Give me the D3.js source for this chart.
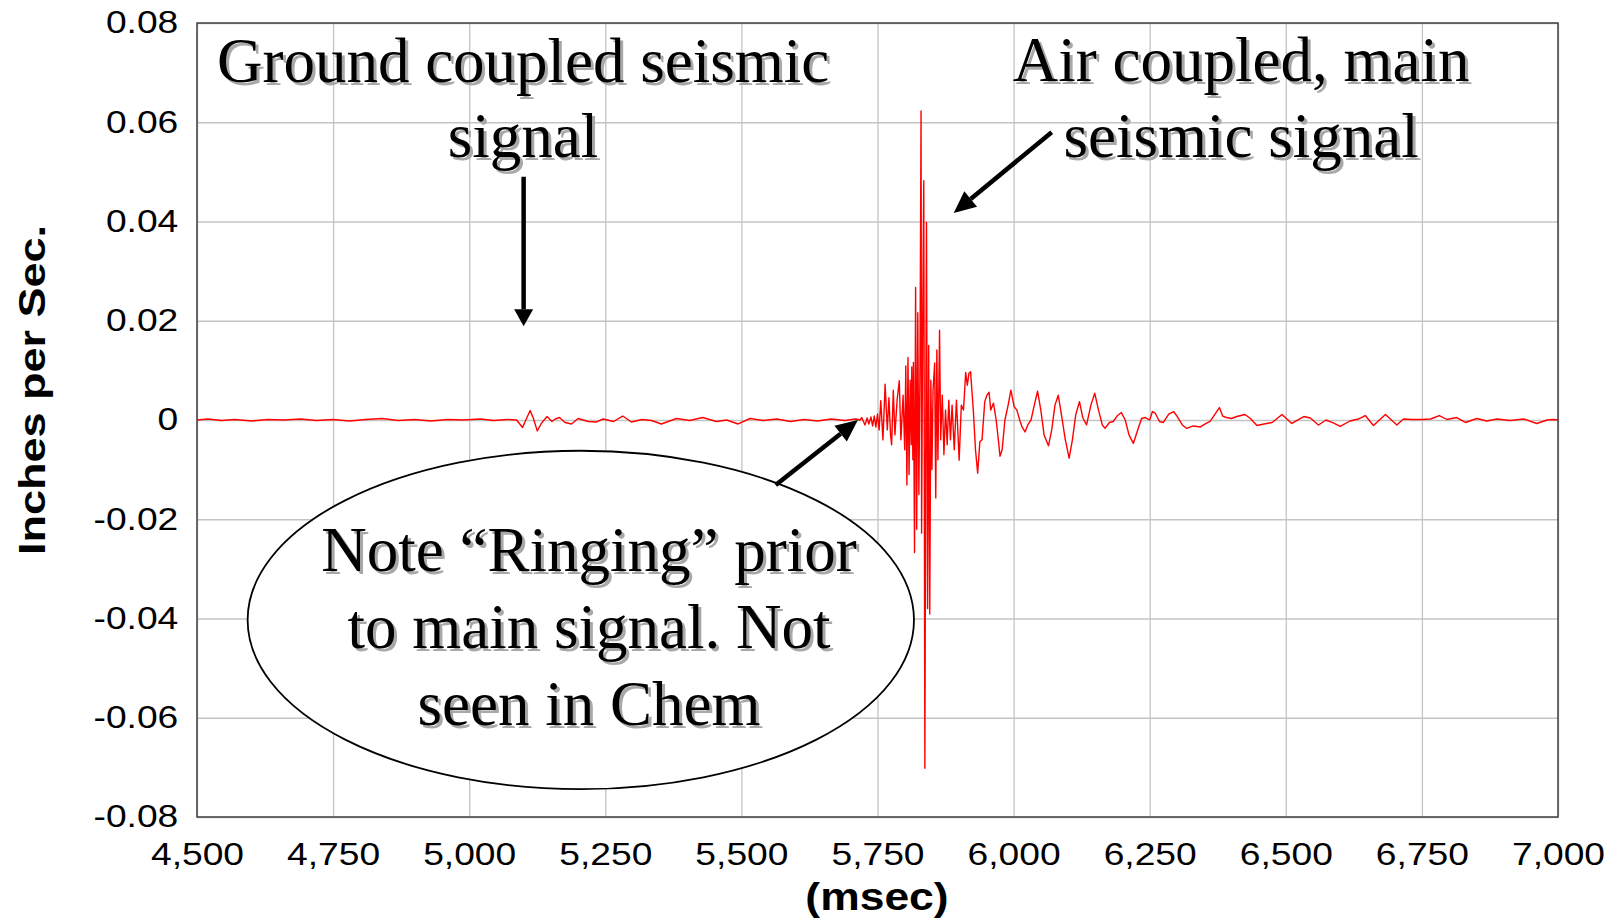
<!DOCTYPE html>
<html>
<head>
<meta charset="utf-8">
<script src="https://cdn.jsdelivr.net/npm/d3@7"></script>
<style>
  body { margin: 0; background: #fff; }
  svg { display: block; }
</style>
</head>
<body>
<svg id="chart" width="1617" height="919"></svg>
<script>
// axis ticks
var xTicks = [4500, 4750, 5000, 5250, 5500, 5750, 6000, 6250, 6500, 6750, 7000];
var yTicks = [-0.08, -0.06, -0.04, -0.02, 0, 0.02, 0.04, 0.06, 0.08];
var yTickLabels = ['-0.08', '-0.06', '-0.04', '-0.02', '0', '0.02', '0.04', '0.06', '0.08'];

// velocity trace (msec, inches per sec)
var timeMs = [
  4500, 4520, 4545, 4570, 4600, 4630, 4660, 4690, 4720, 4750, 4780, 4810, 4840, 4870, 4900, 4930, 4960, 4990,
  5020, 5045, 5070, 5087, 5098, 5104, 5112, 5118, 5125, 5133, 5143, 5152, 5158, 5166, 5176, 5188, 5200,
  5219, 5234, 5246, 5265, 5282, 5298, 5317, 5335, 5353, 5381, 5405, 5429, 5454, 5473, 5494, 5516, 5540,
  5565, 5590, 5615, 5640, 5665, 5690, 5710, 5718, 5721, 5727, 5731, 5734, 5738, 5741, 5744, 5747, 5750,
  5753, 5756, 5760, 5764, 5768, 5771, 5774, 5776, 5779, 5782, 5786, 5790, 5793, 5797, 5800, 5802, 5804,
  5806, 5808, 5810, 5812, 5813, 5815, 5816, 5818, 5820, 5822, 5824, 5826, 5828, 5830, 5831, 5833, 5835,
  5837, 5839, 5840, 5842, 5844, 5846, 5848, 5850, 5852, 5855, 5857, 5859, 5861, 5864, 5866, 5869, 5872,
  5875, 5878, 5881, 5884, 5887, 5891, 5895, 5900, 5904, 5908, 5912, 5915, 5918, 5921, 5924, 5926, 5930,
  5934, 5938, 5942, 5947, 5951, 5955, 5958, 5963, 5968, 5972, 5975, 5979, 5984, 5990, 5995, 6001, 6006,
  6012, 6016, 6021, 6026, 6032, 6038, 6044, 6050, 6056, 6064, 6070, 6076, 6082, 6088, 6095, 6102, 6108,
  6114, 6121, 6127, 6134, 6142, 6149, 6156, 6163, 6168, 6176, 6183, 6190, 6198, 6205, 6212, 6220, 6228,
  6235, 6242, 6250, 6255, 6260, 6268, 6275, 6285, 6294, 6300, 6310, 6318, 6330, 6343, 6352, 6361, 6370,
  6378, 6384, 6391, 6400, 6410, 6425, 6435, 6447, 6460, 6475, 6493, 6511, 6533, 6545, 6560, 6574, 6587,
  6600, 6618, 6633, 6646, 6661, 6672, 6683, 6694, 6704, 6716, 6732, 6750, 6766, 6782, 6796, 6814, 6830,
  6851, 6869, 6888, 6912, 6937, 6961, 6980, 6992, 7000
];
var inchesPerSec = [
  0.0000, 0.0002, -0.0001, 0.0001, -0.0002, 0.0001, 0.0000, 0.0002, -0.0001, 0.0001, -0.0002, 0.0001, 0.0003, -0.0001, 0.0001, -0.0002, 0.0001, 0.0000,
  0.0002, -0.0001, 0.0001, 0.0000, -0.0015, 0.0000, 0.0019, 0.0003, -0.0022, -0.0006, 0.0007, -0.0003, 0.0002, 0.0005, -0.0005, -0.0008, 0.0003,
  -0.0003, -0.0004, 0.0002, -0.0003, 0.0008, -0.0004, 0.0001, -0.0001, -0.0008, 0.0003, -0.0001, 0.0005, -0.0003, 0.0000, -0.0008, 0.0003, -0.0001,
  0.0002, -0.0003, 0.0001, -0.0002, 0.0002, -0.0001, 0.0002, 0.0000, 0.0005, -0.0010, 0.0004, -0.0008, 0.0006, -0.0012, 0.0008, -0.0014, 0.0012,
  -0.0020, 0.0039, -0.0040, 0.0072, -0.0020, 0.0045, -0.0030, -0.0050, 0.0060, -0.0030, 0.0040, 0.0079, -0.0040, 0.0050, -0.0060, 0.0109, -0.0131,
  0.0126, -0.0110, 0.0080, -0.0050, 0.0107, -0.0080, 0.0116, -0.0267, 0.0267, -0.0220, 0.0216, -0.0150, 0.0100, 0.0623, -0.0228, 0.0200, 0.0482,
  -0.0702, 0.0100, 0.0398, -0.0380, 0.0150, -0.0391, 0.0080, -0.0100, 0.0060, 0.0115, -0.0157, 0.0141, -0.0080, 0.0181, -0.0040, 0.0050, -0.0070,
  0.0020, -0.0050, 0.0040, -0.0040, 0.0030, -0.0060, 0.0040, -0.0081, 0.0030, 0.0020, 0.0096, 0.0070, 0.0094, 0.0097, 0.0050, 0.0020, -0.0060,
  -0.0107, -0.0044, -0.0040, 0.0037, 0.0050, 0.0056, 0.0020, 0.0034, 0.0000, -0.0040, -0.0073, -0.0060, 0.0000, 0.0030, 0.0060, 0.0027, 0.0020,
  -0.0003, -0.0015, -0.0024, -0.0010, 0.0000, 0.0030, 0.0058, 0.0020, -0.0030, -0.0052, -0.0020, 0.0030, 0.0050, 0.0010, -0.0040, -0.0077, -0.0040,
  0.0010, 0.0037, 0.0005, -0.0010, 0.0030, 0.0054, 0.0020, -0.0010, -0.0017, -0.0005, -0.0003, 0.0008, 0.0015, 0.0000, -0.0030, -0.0047, -0.0020,
  0.0003, 0.0005, 0.0000, 0.0017, 0.0014, -0.0003, -0.0005, 0.0012, 0.0017, 0.0008, -0.0010, -0.0017, -0.0012, -0.0014, -0.0008, -0.0003, 0.0012,
  0.0025, 0.0008, 0.0005, 0.0003, 0.0007, 0.0011, 0.0003, -0.0011, -0.0008, -0.0005, 0.0011, -0.0007, 0.0007, 0.0004, -0.0010, 0.0000, -0.0006,
  -0.0013, -0.0002, 0.0002, 0.0009, -0.0011, 0.0000, 0.0011, 0.0000, -0.0010, 0.0002, 0.0001, 0.0001, 0.0002, 0.0009, 0.0001, 0.0005, -0.0005,
  0.0003, -0.0002, 0.0002, -0.0001, 0.0002, -0.0007, 0.0000, 0.0001, 0.0000
];

var margin = {left: 197, top: 23, right: 59, bottom: 102};
var width = 1617 - margin.left - margin.right;
var height = 919 - margin.top - margin.bottom;

var svg = d3.select('#chart');
svg.append('rect').attr('width', 1617).attr('height', 919).attr('fill', '#fff');

var g = svg.append('g')
           .attr('transform', 'translate(' + margin.left + ',' + margin.top + ')');

var x = d3.scaleLinear().domain([4500, 7000]).range([0, width]);
var y = d3.scaleLinear().domain([-0.08, 0.08]).range([height, 0]);

// axes double as gridlines
var xAxis = g.append('g')
             .attr('transform', 'translate(0,' + height + ')')
             .call(d3.axisBottom(x)
                     .tickValues(xTicks)
                     .tickFormat(d3.format(','))
                     .tickSize(-height)
                     .tickPadding(26));

var yAxis = g.append('g')
             .call(d3.axisLeft(y)
                     .tickValues(yTicks)
                     .tickFormat(function(d){ return yTickLabels[yTicks.indexOf(d)]; })
                     .tickSize(-width)
                     .tickPadding(15.6));

[xAxis, yAxis].forEach(function(ax){
  ax.select('.domain').remove();
  ax.selectAll('.tick line')
    .attr('stroke', '#c4c4c4')
    .attr('stroke-width', 1.3);
  ax.selectAll('.tick text')
    .attr('fill', '#000')
    .attr('transform', 'scale(1.2,1)')
    .style('font-family', '"Liberation Sans", Arial, sans-serif')
    .style('font-size', '31px');
});

var pts = timeMs.map(function(t, i){ return [t, inchesPerSec[i]]; });

g.append('path')
 .datum(pts)
 .attr('fill', 'none')
 .attr('stroke', '#ff0000')
 .attr('stroke-width', 1.4)
 .attr('stroke-linejoin', 'round')
 .attr('d', d3.line()
              .x(function(d){ return x(d[0]); })
              .y(function(d){ return y(d[1]); }));

g.append('rect')
 .attr('width', width)
 .attr('height', height)
 .attr('fill', 'none')
 .attr('stroke', '#404040')
 .attr('stroke-width', 1.5);

// axis titles
svg.append('text')
   .attr('transform', 'translate(45,390) rotate(-90) scale(1.25,1)')
   .attr('text-anchor', 'middle')
   .style('font-family', '"Liberation Sans", Arial, sans-serif')
   .style('font-weight', 'bold')
   .style('font-size', '36px')
   .text('Inches per Sec.');

svg.append('text')
   .attr('transform', 'translate(877,910) scale(1.17,1)')
   .attr('text-anchor', 'middle')
   .style('font-family', '"Liberation Sans", Arial, sans-serif')
   .style('font-weight', 'bold')
   .style('font-size', '38px')
   .text('(msec)');

// annotations, placed in data units
function arrow(t1, v1, t2, v2, headLen, headW) {
  var x1 = x(t1), y1 = y(v1), x2 = x(t2), y2 = y(v2);
  var a = Math.atan2(y2 - y1, x2 - x1);
  var bx = x2 - headLen * Math.cos(a), by = y2 - headLen * Math.sin(a);
  g.append('line')
   .attr('x1', x1).attr('y1', y1).attr('x2', bx).attr('y2', by)
   .attr('stroke', '#000').attr('stroke-width', 4.5);
  var px = -Math.sin(a) * headW / 2, py = Math.cos(a) * headW / 2;
  g.append('path')
   .attr('d', 'M' + x2 + ',' + y2 + 'L' + (bx + px) + ',' + (by + py) + 'L' + (bx - px) + ',' + (by - py) + 'Z')
   .attr('fill', '#000');
}

function label(lines, t, vs) {
  lines.forEach(function(s, i){
    [['#a8a8a8', 3], ['#000', 0]].forEach(function(st){
      g.append('text')
       .attr('x', x(t) + st[1])
       .attr('y', y(vs[i]) + st[1])
       .attr('text-anchor', 'middle')
       .attr('fill', st[0])
       .style('font-family', '"Liberation Serif", "Times New Roman", serif')
       .style('font-size', '63px')
       .text(s);
    });
  });
}

g.append('ellipse')
 .attr('cx', x(5205)).attr('cy', y(-0.0403))
 .attr('rx', x(5205 + 612) - x(5205))
 .attr('ry', y(-0.0403 - 0.0341) - y(-0.0403))
 .attr('fill', '#fff')
 .attr('stroke', '#000')
 .attr('stroke-width', 1.8);

arrow(5100, 0.049, 5100, 0.0189, 17, 19);
arrow(6070, 0.058, 5890, 0.0417, 22, 20);
arrow(5563, -0.0131, 5714, 0, 22, 20);

label(['Ground coupled seismic', 'signal'], 5099, [0.0681, 0.053]);
label(['Air coupled, main', 'seismic signal'], 6418, [0.0683, 0.053]);
label(['Note \u201cRinging\u201d prior', 'to main signal. Not', 'seen in Chem'], 5220, [-0.0304, -0.0459, -0.0615]);
</script>
</body>
</html>
